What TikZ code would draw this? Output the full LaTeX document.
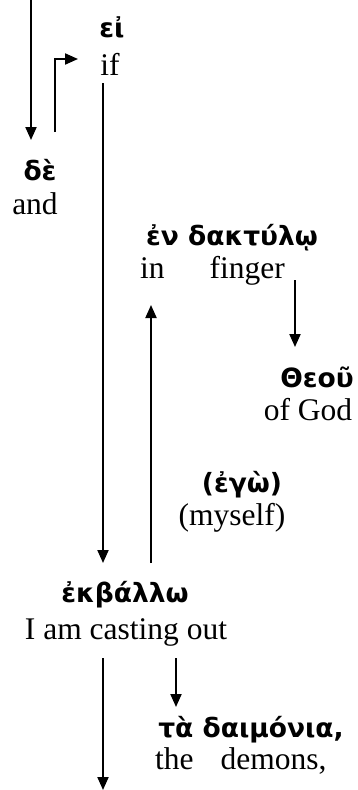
\documentclass[tikz,border=0pt]{standalone}
\usepackage{fontspec}
\setmainfont{Liberation Serif}
\newfontfamily\grk{DejaVu Sans}
\usetikzlibrary{arrows.meta}
\tikzset{
  en/.style={inner sep=0pt, font=\fontsize{31.5}{36}\selectfont},
  gk/.style={inner sep=0pt, font=\grk\bfseries\fontsize{26.5}{32}\selectfont},
  arr/.style={line width=2pt, -{Triangle[length=13pt,width=11pt]}},
  ln/.style={line width=2pt}
}
\begin{document}
\begin{tikzpicture}[x=1pt,y=-1pt]
\useasboundingbox (0,0) rectangle (357,790);
% texts
\node[gk] (ei) at (112,27) {εἰ};
\node[en] (if) at (110,64) {if};
\node[gk] (de) at (40,170) {δὲ};
\node[en] (and) at (35,204) {and};
\node[gk] (endak) at (232,238) {ἐν δακτύλῳ};
\node[en, anchor=west] (infinger) at (140,271) {in\hspace{45pt}finger};
\node[gk] (theou) at (317,377) {Θεοῦ};
\node[en] (ofgod) at (308,410) {of God};
\node[gk] (ego) at (242,485) {(ἐγὼ)};
\node[en] (myself) at (232,518) {(myself)};
\node[gk] (ekb) at (125,595) {ἐκβάλλω};
\node[en] (casting) at (126,632) {I am casting out};
\node[gk] (daim) at (251,730) {τὰ δαιμόνια,};
\node[en, anchor=west] (demons) at (155,761) {the\hspace{27pt}demons,};
% free ends
\coordinate (top) at (31,0);
\coordinate (deTip) at (31,140);
\coordinate (elb0) at (55,132);
\coordinate (elb1) at (55,59);
\coordinate (ifTip) at (78,59);
\coordinate (a3s) at (103,83);
\coordinate (a3e) at (103,563);
\coordinate (a4s) at (151,563);
\coordinate (a4e) at (151,305);
\coordinate (a5s) at (295,280);
\coordinate (a5e) at (295,347);
\coordinate (a6s) at (103,658);
\coordinate (bottom) at (103,790);
\coordinate (a7s) at (176,658);
\coordinate (a7e) at (176,707);
% connectors
\draw[arr] (top) -- (deTip);
\draw[arr] (elb0) -- (elb1) -- (ifTip);
\draw[arr] (a3s) -- (a3e);
\draw[arr] (a4s) -- (a4e);
\draw[arr] (a5s) -- (a5e);
\draw[arr] (a6s) -- (bottom);
\draw[arr] (a7s) -- (a7e);
\end{tikzpicture}
\end{document}
